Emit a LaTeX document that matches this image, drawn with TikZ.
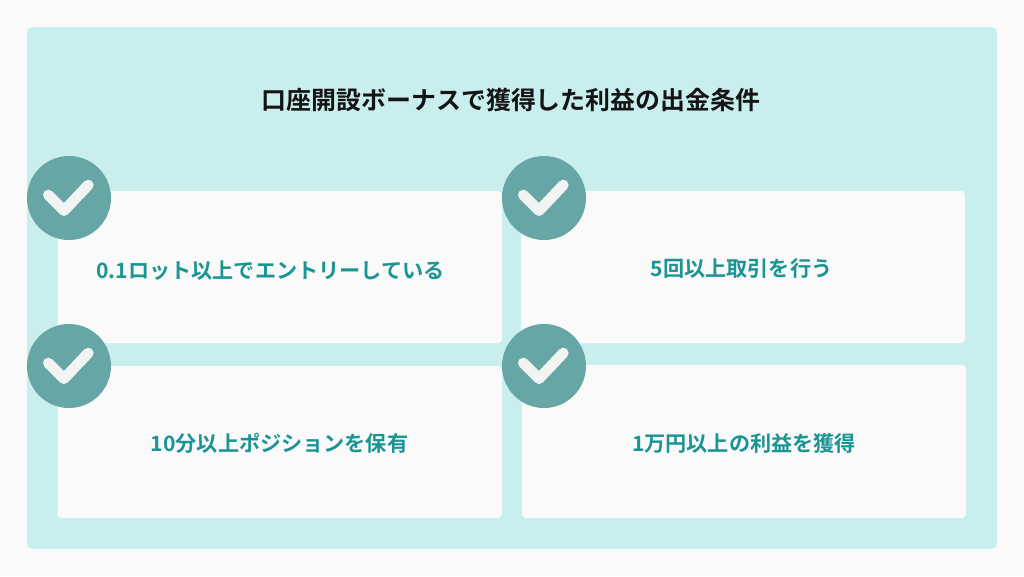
\documentclass[tikz,border=0pt]{standalone}
\usepackage{fontspec}
\setmainfont[BoldFont={Noto Sans CJK JP Bold}]{Noto Sans CJK JP}
\definecolor{pagebg}{HTML}{FAFAFA}
\definecolor{panelbg}{HTML}{C9EEEE}
\definecolor{badge}{HTML}{66A6A5}
\definecolor{tick}{HTML}{F2F4F4}
\definecolor{teal}{HTML}{1B9494}
\definecolor{ink}{HTML}{141414}
\tikzset{
  card/.style={fill=pagebg,rounded corners=3pt},
  cardtext/.style={text=teal,font=\bfseries\fontsize{15.85pt}{18pt}\selectfont,inner sep=0pt,anchor=center},
  titletext/.style={text=ink,font=\bfseries\fontsize{18.7pt}{22pt}\selectfont,inner sep=0pt,anchor=center},
  badgedisc/.style={fill=badge,circle,minimum size=63pt,inner sep=0pt},
  tickline/.style={draw=tick,line width=8pt,line cap=round,line join=round}
}
\newcommand{\tickat}[1]{\draw[tickline] ([shift={(-20.7,-3)}]#1.center) -- ([shift={(-5,12.7)}]#1.center) -- ([shift={(19.3,-13)}]#1.center);}
\begin{document}
\begin{tikzpicture}[x=0.75pt,y=-0.75pt]
\useasboundingbox (0,0) rectangle (1024,576);
\fill[pagebg] (0,0) rectangle (1024,576);
\fill[panelbg,rounded corners=4pt] (27,27) rectangle (997,549);
\fill[card] (57.5,191) rectangle (502,343);
\fill[card] (521,191) rectangle (965,343);
\fill[card] (57.5,366) rectangle (502,518);
\fill[card] (522,365) rectangle (966,518);
\node[titletext] (title) at (511,100) {口座開設ボーナスで獲得した利益の出金条件};
\node[cardtext] (t1) at (270.5,271) {0.1ロット以上でエントリーしている};
\node[cardtext] (t2) at (741.5,268) {5回以上取引を行う};
\node[cardtext] (t3) at (279.5,443) {10分以上ポジションを保有};
\node[cardtext] (t4) at (744,443) {1万円以上の利益を獲得};
\node[badgedisc] (b1) at (69,198) {};
\node[badgedisc] (b2) at (544,198) {};
\node[badgedisc] (b3) at (69,366) {};
\node[badgedisc] (b4) at (544,366) {};
\tickat{b1}
\tickat{b2}
\tickat{b3}
\tickat{b4}
\end{tikzpicture}
\end{document}
